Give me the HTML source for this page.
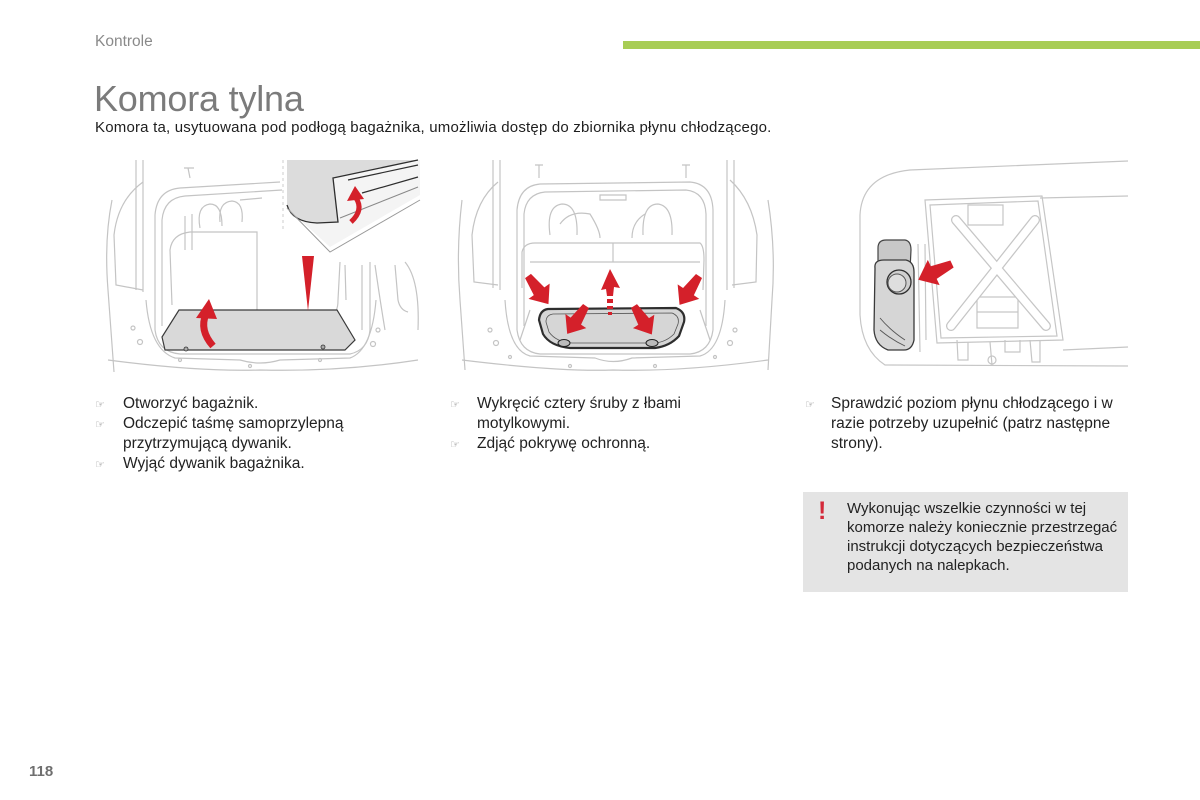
<!DOCTYPE html>
<html><head><meta charset="utf-8">
<style>
html,body{margin:0;padding:0;background:#fff;}
body{width:1200px;height:800px;position:relative;overflow:hidden;font-family:"Liberation Sans",Arial,sans-serif;color:#1e1e1e;}
.a{position:absolute;white-space:nowrap;}
.hdr{left:95px;top:33px;font-size:15.5px;color:#8a8a8a;line-height:18px;}
.bar{position:absolute;left:623px;top:41px;width:577px;height:8px;background:#a8cd55;}
.title{left:94px;top:81px;font-size:36px;line-height:36px;color:#7b7b7b;letter-spacing:-0.2px;}
.sub{left:95px;top:119px;font-size:15px;line-height:18px;color:#1e1e1e;letter-spacing:0.2px;}
.list{position:absolute;font-size:15.5px;line-height:20px;color:#222;}
.li{position:relative;padding-left:28px;white-space:nowrap;}
.li .b{position:absolute;left:0;top:1px;font-family:"DejaVu Sans",sans-serif;font-size:11px;color:#8a8a8a;}
.warn{position:absolute;left:803px;top:492px;width:325px;height:100px;background:#e4e4e4;}
.warn .t{position:absolute;left:44px;top:7px;font-size:15px;line-height:19px;color:#222;white-space:nowrap;}
.warn .ex{position:absolute;left:15px;top:6px;font-size:25px;line-height:26px;color:#d42a3a;font-weight:bold;}
.pn{left:29px;top:763px;font-size:15px;font-weight:bold;color:#6f6f6f;line-height:18px;}
svg{position:absolute;left:0;top:0;}
</style></head><body>
<div class="a hdr">Kontrole</div>
<div class="bar"></div>
<div class="a title">Komora tylna</div>
<div class="a sub">Komora ta, usytuowana pod podłogą bagażnika, umożliwia dostęp do zbiornika płynu chłodzącego.</div>

<svg width="1200" height="800" viewBox="0 0 1200 800">
<defs>
<path id="arr" d="M0,-2.5 L13,-4.5 L13,-9 L24,0 L13,9 L13,4.5 L0,2.5 Z"/>
</defs>
<!-- ================= LEFT SCENE ================= -->
<g fill="none" stroke="#c4c4c4" stroke-width="1.2">
 <path d="M112,200 Q104,240 108,290 L114,372"/>
 <path d="M143,182 Q118,200 114,235 L116,285 L143,290"/>
 <path d="M136,160 L136,290 M143,160 L143,292"/>
 <path d="M146,300 Q150,350 175,358 L240,360 Q260,366 280,360 L350,358 Q372,350 376,300"/>
 <path d="M108,360 Q200,372 260,370 Q340,372 418,360"/>
 <path d="M155,330 L155,215 Q157,190 180,188 L280,182"/>
 <path d="M162,326 L162,220 Q164,198 185,196 L282,190"/>
 <path d="M155,330 Q158,352 180,354 L350,354 Q368,350 370,330 L370,262"/>
 <path d="M362,330 L362,265"/>
 <path d="M172,305 L170,250 Q172,234 190,232 L257,232 L257,312"/>
 <path d="M200,228 Q196,206 210,204 Q222,204 222,226"/>
 <path d="M220,222 Q218,202 232,201 Q244,202 242,222"/>
 <path d="M240,200 L262,198"/>
 <path d="M185,216 L185,250 M192,214 L192,250"/>
 <path d="M340,262 L338,300 Q338,315 330,312"/>
 <path d="M345,265 L346,300"/>
 <path d="M375,265 Q380,300 385,330"/>
 <path d="M405,262 Q420,280 418,330"/>
 <path d="M395,265 L398,300 Q400,310 408,312"/>
 <circle cx="133" cy="328" r="2"/><circle cx="140" cy="342" r="2.5"/>
 <circle cx="378" cy="330" r="2"/><circle cx="373" cy="344" r="2.5"/>
 <circle cx="180" cy="360" r="1.5"/><circle cx="320" cy="360" r="1.5"/><circle cx="250" cy="366" r="1.5"/>
 <path d="M188,168 L190,178 M184,168 L194,168"/>
</g>
<path d="M179,310 L337,310 L355,340 L345,350 L165,350 L162,337 Z" fill="#d9d9d9" stroke="#3a3a3a" stroke-width="1.2"/>
<circle cx="186" cy="349" r="2" fill="#aaa" stroke="#333" stroke-width="0.8"/>
<circle cx="323" cy="347" r="2" fill="#aaa" stroke="#333" stroke-width="0.8"/>
<!-- inset -->
<path d="M287,160 L420,160 L420,195 L330,247 L287,208 Z" fill="#f4f4f4"/>
<path d="M287,160 L287,205 Q292,222 317,223 L338,222 L333,178 L418,160 Z" fill="#dcdcdc"/>
<path d="M287,205 Q292,222 317,223 L338,222 L333,178 L418,160" fill="none" stroke="#2e2e2e" stroke-width="1.3"/>
<path d="M348,180 L418,165 M362,193 L418,177" fill="none" stroke="#2e2e2e" stroke-width="1.2"/>
<path d="M340,218 L418,187" fill="none" stroke="#888" stroke-width="1"/>
<path d="M287,208 L330,252 L420,200" fill="none" stroke="#999" stroke-width="1"/>
<path d="M283,160 L283,232" fill="none" stroke="#ccc" stroke-width="1" stroke-dasharray="3,3"/>
<g fill="#d4202a">
 <path d="M351,222 Q364,210 356,198" fill="none" stroke="#d4202a" stroke-width="5"/>
 <polygon points="347,201 355,186 364,199"/>
 <path d="M213,346 Q199,330 206,314" fill="none" stroke="#d4202a" stroke-width="7"/>
 <polygon points="196,318 209,299 217,319"/>
 <polygon points="302,256 314,256 308,311"/>
</g>

<!-- ================= MIDDLE SCENE ================= -->
<g fill="none" stroke="#c4c4c4" stroke-width="1.2">
 <path d="M493,160 L493,288 M500,160 L500,290"/>
 <path d="M727,160 L727,290 M734,160 L734,288"/>
 <path d="M498,182 Q476,200 472,235 L474,282 L498,285"/>
 <path d="M730,180 Q752,200 757,235 L756,282 L732,285"/>
 <path d="M462,200 Q456,250 460,300 L465,370"/>
 <path d="M768,200 Q776,250 772,300 L768,370"/>
 <path d="M535,165 L543,165 M539,165 L539,178 M682,165 L690,165 M686,165 L686,178"/>
 <path d="M517,330 L517,210 Q519,186 540,184 L690,182 Q712,184 713,210 L713,330"/>
 <path d="M524,326 L524,214 Q526,194 545,192 L686,190 Q705,192 706,214 L706,326"/>
 <path d="M505,300 Q508,350 530,356 L595,358 Q613,365 632,358 L700,356 Q722,350 725,300"/>
 <path d="M462,360 Q560,372 613,370 Q680,372 768,360"/>
 <path d="M517,330 Q520,352 540,354 L690,354 Q710,352 713,330"/>
 <path d="M522,288 L522,252 Q524,243 535,243 L700,243 Q704,246 704,260 L703,290"/>
 <path d="M613,243 L613,262"/>
 <path d="M530,262 L700,262"/>
 <path d="M550,235 Q546,206 562,204 Q578,204 577,235"/>
 <path d="M643,235 Q642,204 658,204 Q673,206 672,235"/>
 <path d="M560,224 Q570,210 590,214 Q600,230 600,238 M632,238 Q632,222 645,214"/>
 <path d="M600,195 L626,195 L626,200 L600,200 Z"/>
 <circle cx="490" cy="330" r="2"/><circle cx="496" cy="343" r="2.5"/>
 <circle cx="735" cy="330" r="2"/><circle cx="730" cy="343" r="2.5"/>
 <circle cx="510" cy="357" r="1.5"/><circle cx="715" cy="357" r="1.5"/><circle cx="570" cy="366" r="1.5"/><circle cx="655" cy="366" r="1.5"/>
 <path d="M530,310 L520,340 M700,310 L710,340"/>
</g>
<path d="M548,309 L676,308 Q686,312 684,322 L679,336 Q670,346 655,348 L570,348 Q550,346 543,334 L539,320 Q540,310 548,309 Z" fill="#d6d6d6" stroke="#2e2e2e" stroke-width="2.2"/>
<path d="M553,314 L672,313 Q680,316 678,324 L674,334 Q666,342 655,343 L572,343 Q556,342 549,332 L546,322 Q546,315 553,314 Z" fill="none" stroke="#555" stroke-width="0.8"/>
<ellipse cx="564" cy="343" rx="6" ry="3.5" fill="#bbb" stroke="#222" stroke-width="1"/>
<ellipse cx="652" cy="343" rx="6" ry="3.5" fill="#bbb" stroke="#222" stroke-width="1"/>
<g fill="#d4202a">
 <use href="#arr" transform="translate(528,276) rotate(54) scale(1.45)"/>
 <use href="#arr" transform="translate(699,276) rotate(124) scale(1.45)"/>
 <use href="#arr" transform="translate(586,306) rotate(124) scale(1.4)"/>
 <use href="#arr" transform="translate(634,306) rotate(58) scale(1.4)"/>
 <polygon points="601,290 610,269 620,288 614,287 613,296 607,296 606,289"/>
 <rect x="607" y="299" width="6" height="4"/>
 <rect x="607" y="306" width="6" height="3"/>
 <rect x="608" y="312" width="4" height="3"/>
</g>

<!-- ================= RIGHT SCENE ================= -->
<g fill="none" stroke="#c6c6c6" stroke-width="1.2">
 <path d="M1128,161 L910,170 Q862,175 860,215 L860,315 Q862,350 885,365 L1128,366"/>
 <path d="M1040,198 L1128,196"/>
 <path d="M1063,350 L1128,347"/>
 <path d="M925,200 L1042,196 L1063,340 L937,343 Z"/>
 <path d="M930,205 L1038,201 L1057,336 L941,338 Z"/>
 <path d="M968,205 L1003,205 L1003,225 L968,225 Z"/>
 <path d="M977,297 L1018,297 L1018,328 L977,328 Z M977,312 L1018,312"/>
 <path d="M957,340 L958,360 L968,360 L968,342 M990,342 L992,365 M1005,340 L1005,352 L1020,352 L1020,340 M1030,340 L1032,362 L1040,362 L1040,340"/>
 <circle cx="992" cy="360" r="4"/>
 <path d="M918,244 L920,352 M925,244 L926,340"/>
</g>
<g stroke="#c6c6c6" stroke-width="10" stroke-linecap="round" fill="none">
 <path d="M956,220 L1046,326"/><path d="M1035,220 L951,326"/>
</g>
<g stroke="#fff" stroke-width="7.5" stroke-linecap="round" fill="none">
 <path d="M956,220 L1046,326"/><path d="M1035,220 L951,326"/>
</g>
<path d="M878,248 Q878,240 886,240 L905,240 Q911,241 911,250 L910,270 L878,272 Z" fill="#c8c8c8" stroke="#444" stroke-width="1.2"/>
<path d="M875,268 Q874,260 884,260 L906,260 Q914,262 914,272 L914,340 Q912,350 904,350 L888,350 Q875,345 874,330 Z" fill="#d6d6d6" stroke="#3a3a3a" stroke-width="1.3"/>
<path d="M880,318 Q890,330 905,340 M880,330 Q892,340 905,346" stroke="#555" stroke-width="0.9" fill="none"/>
<circle cx="899" cy="282" r="12" fill="#cfcfcf" stroke="#2e2e2e" stroke-width="1.3"/>
<circle cx="897" cy="283" r="9" fill="#dedede" stroke="#555" stroke-width="1"/>
<g fill="#d4202a">
 <use href="#arr" transform="translate(952,264) rotate(155) scale(1.55)"/>
</g>
</svg>

<div class="list" style="left:95px;top:394px;width:330px;">
 <div class="li"><span class="b">☞</span>Otworzyć bagażnik.</div>
 <div class="li"><span class="b">☞</span>Odczepić taśmę samoprzylepną<br>przytrzymującą dywanik.</div>
 <div class="li"><span class="b">☞</span>Wyjąć dywanik bagażnika.</div>
</div>
<div class="list" style="left:450px;top:394px;width:320px;">
 <div class="li" style="padding-left:27px"><span class="b">☞</span>Wykręcić cztery śruby z łbami<br>motylkowymi.</div>
 <div class="li" style="padding-left:27px"><span class="b">☞</span>Zdjąć pokrywę ochronną.</div>
</div>
<div class="list" style="left:805px;top:394px;width:340px;">
 <div class="li" style="padding-left:26px"><span class="b">☞</span>Sprawdzić poziom płynu chłodzącego i w<br>razie potrzeby uzupełnić (patrz następne<br>strony).</div>
</div>

<div class="warn">
 <div class="ex">!</div>
 <div class="t">Wykonując wszelkie czynności w tej<br>komorze należy koniecznie przestrzegać<br>instrukcji dotyczących bezpieczeństwa<br>podanych na nalepkach.</div>
</div>

<div class="a pn">118</div>
</body></html>
